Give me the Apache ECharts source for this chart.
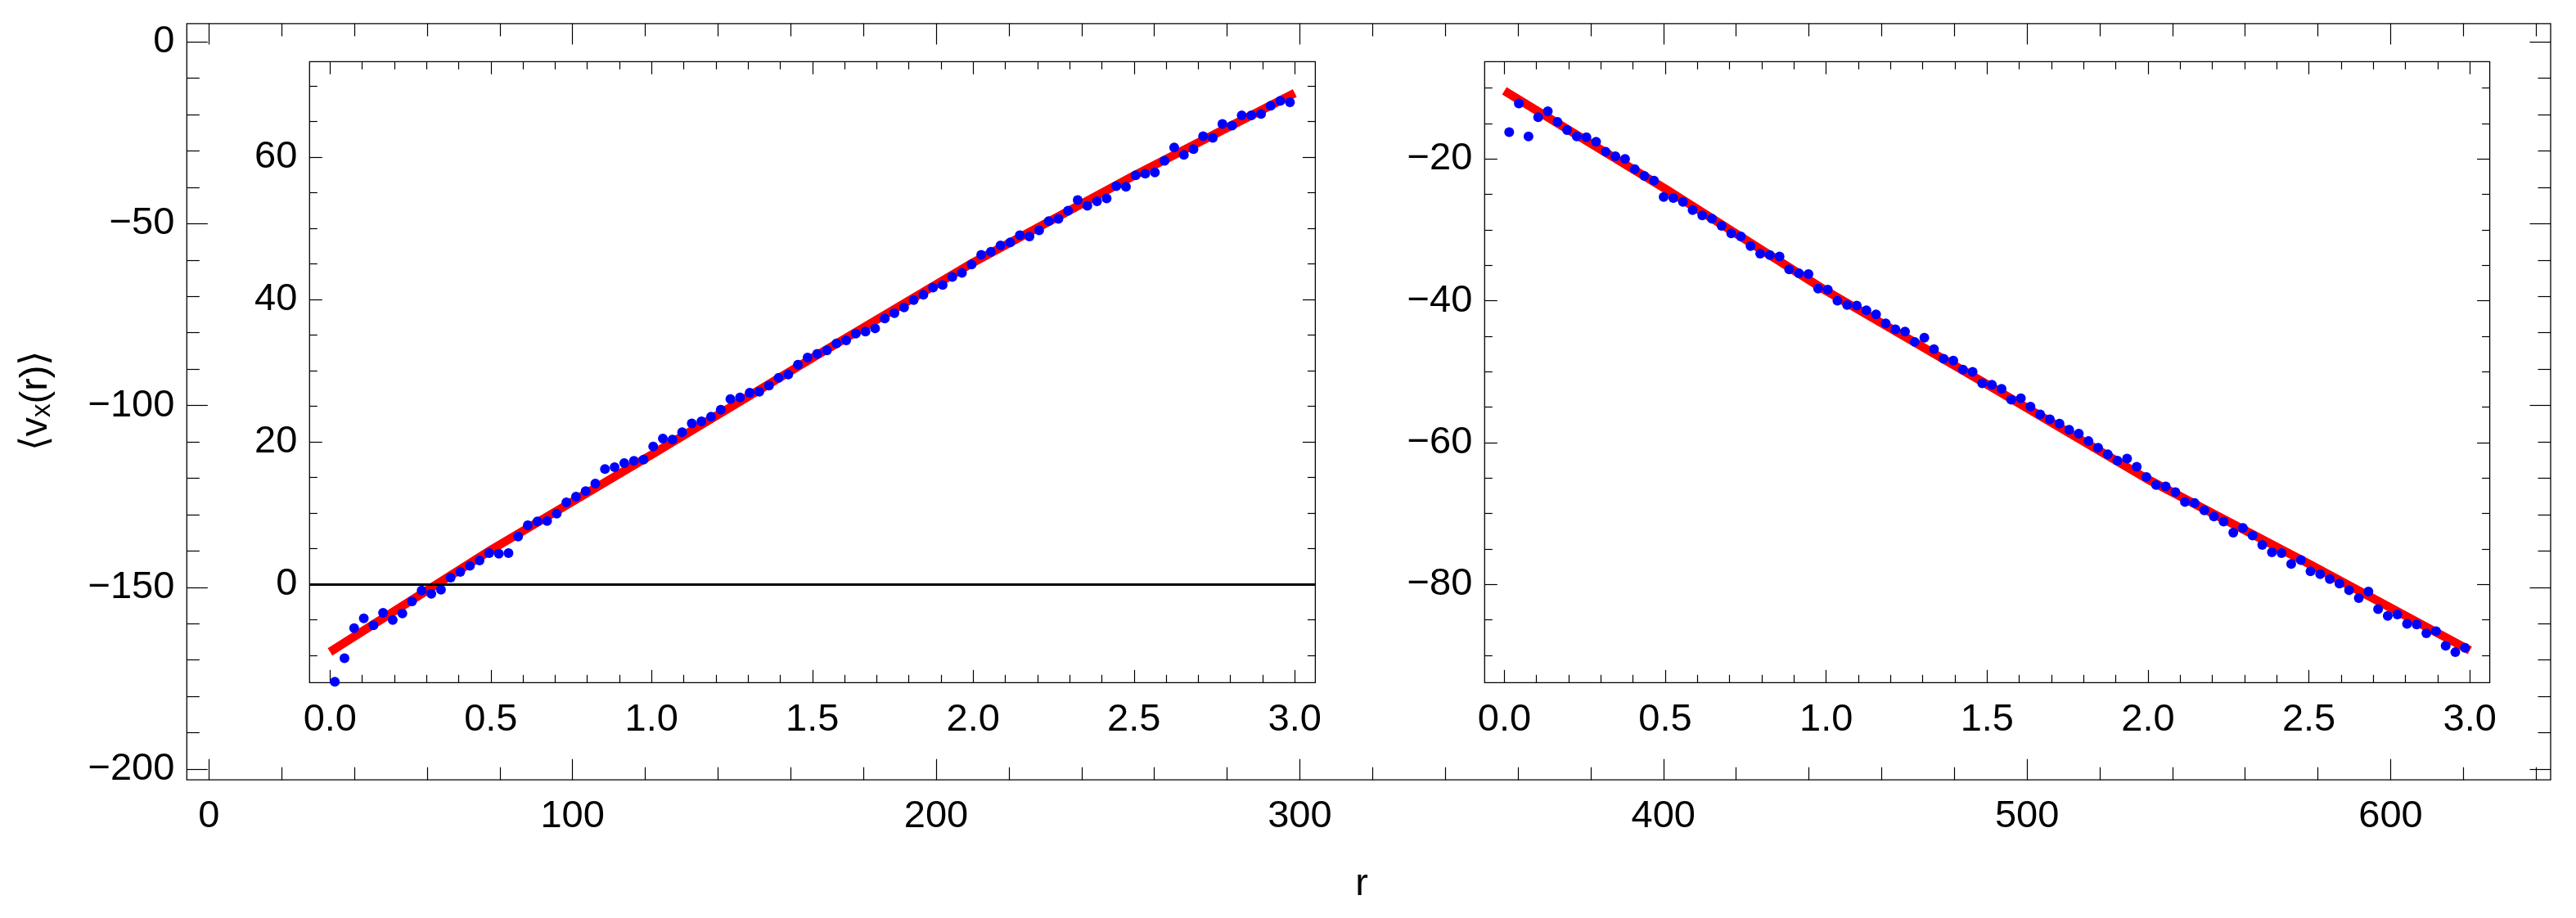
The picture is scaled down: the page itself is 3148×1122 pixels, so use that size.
<!DOCTYPE html>
<html>
<head>
<meta charset="utf-8">
<script src="https://cdn.jsdelivr.net/npm/echarts@6/dist/echarts.min.js"></script>
<style>
html,body{margin:0;padding:0;background:#fff;}
#chart{width:3148px;height:1122px;}
</style>
</head>
<body>
<div id="chart"></div>
<script>
// ---------------- DATA ----------------
const rBins = [0.015,0.045,0.075,0.105,0.135,0.165,0.195,0.225,0.255,0.285,
  0.315,0.345,0.375,0.405,0.435,0.465,0.495,0.525,0.555,0.585,
  0.615,0.645,0.675,0.705,0.735,0.765,0.795,0.825,0.855,0.885,
  0.915,0.945,0.975,1.005,1.035,1.065,1.095,1.125,1.155,1.185,
  1.215,1.245,1.275,1.305,1.335,1.365,1.395,1.425,1.455,1.485,
  1.515,1.545,1.575,1.605,1.635,1.665,1.695,1.725,1.755,1.785,
  1.815,1.845,1.875,1.905,1.935,1.965,1.995,2.025,2.055,2.085,
  2.115,2.145,2.175,2.205,2.235,2.265,2.295,2.325,2.355,2.385,
  2.415,2.445,2.475,2.505,2.535,2.565,2.595,2.625,2.655,2.685,
  2.715,2.745,2.775,2.805,2.835,2.865,2.895,2.925,2.955,2.985];

const leftVals = [-13.7,-10.4,-6.16,-4.78,-5.78,-4.02,-5.01,-4.09,-2.40,-0.87,
  -1.33,-0.76,0.93,1.73,2.58,3.34,4.38,4.30,4.38,6.71,
  8.28,8.82,8.90,9.93,11.50,12.31,13.07,14.15,16.18,16.45,
  17.02,17.33,17.52,19.36,20.47,20.32,21.35,22.58,22.88,23.53,
  24.53,26.02,26.25,26.90,27.06,27.90,29.01,29.47,30.85,31.85,
  32.35,32.84,33.84,34.25,35.20,35.49,35.94,37.33,38.07,38.89,
  39.92,40.66,41.68,42.05,43.16,43.74,44.93,46.28,46.69,47.60,
  48.01,49.03,48.87,49.73,51.00,51.33,52.48,53.96,53.18,53.79,
  54.20,55.93,55.85,57.45,57.69,57.86,59.50,61.35,60.32,61.14,
  62.95,62.70,64.67,64.43,65.86,65.86,66.07,67.22,67.92,67.71];

const rightVals = [-16.23,-12.19,-16.81,-14.12,-13.27,-14.77,-15.93,-16.81,-16.93,-17.58,
  -19.00,-19.62,-20.00,-21.43,-22.39,-23.05,-25.36,-25.51,-26.05,-27.20,
  -27.97,-28.43,-29.43,-30.51,-30.94,-32.28,-33.36,-33.55,-33.75,-35.56,
  -36.13,-36.25,-38.29,-38.44,-39.98,-40.60,-40.68,-41.33,-41.91,-43.18,
  -44.03,-44.33,-45.80,-45.22,-46.83,-48.18,-48.45,-49.72,-50.03,-51.64,
  -51.84,-52.41,-53.95,-53.76,-54.92,-56.03,-56.71,-57.32,-58.20,-58.75,
  -59.79,-60.73,-61.64,-62.55,-62.26,-63.42,-64.86,-65.97,-66.18,-67.00,
  -68.36,-68.53,-69.56,-70.43,-71.13,-72.69,-72.03,-73.11,-74.42,-75.46,
  -75.58,-77.11,-76.57,-78.14,-78.55,-79.25,-79.87,-80.82,-81.93,-81.02,
  -83.50,-84.45,-84.24,-85.56,-85.64,-86.88,-86.59,-88.65,-89.56,-88.94];

const fitR = [0, 0.5, 1.0, 1.5, 2.0, 2.5, 3.0];
const leftFit = [-9.5, 4.8, 18.2, 31.8, 45.2, 57.4, 69.0];
const rightFit = [-10.4, -24.2, -38.6, -51.8, -65.2, -77.1, -89.3];

// tick values
const outerXTicks = [0, 100, 200, 300, 400, 500, 600];
const outerXMinor = [20,40,60,80,120,140,160,180,220,240,260,280,320,340,360,380,420,440,460,480,520,540,560,580,620,640];
const outerYTicks = [-200, -150, -100, -50, 0];
const outerYMinor = [-190,-180,-170,-160,-140,-130,-120,-110,-90,-80,-70,-60,-40,-30,-20,-10];
const insetXTicks = [0, 0.5, 1.0, 1.5, 2.0, 2.5, 3.0];
const insetXMinor = [0.1,0.2,0.3,0.4,0.6,0.7,0.8,0.9,1.1,1.2,1.3,1.4,1.6,1.7,1.8,1.9,2.1,2.2,2.3,2.4,2.6,2.7,2.8,2.9];
const leftYTicks = [0, 20, 40, 60];
const leftYMinor = [-10,-5,5,10,15,25,30,35,45,50,55,65,70];
const rightYTicks = [-80, -60, -40, -20];
const rightYMinor = [-90,-85,-75,-70,-65,-55,-50,-45,-35,-30,-25,-15,-10];

// ---------------- BUILD ----------------
const FONT = 'Liberation Sans, Arial, sans-serif';
const FS = 47;
const minus = v => String(v).replace('-', '\u2212');
const fmt1 = v => (+v).toFixed(1);

const xAxes = [], yAxes = [];
function addFrame(g, xr, yr, xMaj, xMin, yMaj, yMin, majLen, minLen, xFmt, yFmt, xMargin, yMargin) {
  const tickStyle = {color:'#000', width:1.2};
  const base = (min, max) => ({type:'value', gridIndex:g, min:min, max:max,
    axisLine:{show:false, onZero:false}, splitLine:{show:false}, minorTick:{show:false}});
  const mk = (pos, isX, vals, len, labelVals, f, margin) => Object.assign(
    base(isX ? xr[0] : yr[0], isX ? xr[1] : yr[1]), {
      position: pos,
      axisTick:{show:true, inside:true, length:len, customValues:vals, lineStyle:tickStyle},
      axisLabel: labelVals ? {show:true, customValues:labelVals, formatter:f, margin:margin,
        fontSize:FS, fontFamily:FONT, color:'#000'} : {show:false}
    });
  const xi = xAxes.length, yi = yAxes.length;
  xAxes.push(mk('bottom', true, xMaj, majLen, xMaj, xFmt, xMargin));
  xAxes.push(mk('bottom', true, xMin, minLen, null));
  xAxes.push(mk('top', true, xMaj, majLen, null));
  xAxes.push(mk('top', true, xMin, minLen, null));
  yAxes.push(mk('left', false, yMaj, majLen, yMaj, yFmt, yMargin));
  yAxes.push(mk('left', false, yMin, minLen, null));
  yAxes.push(mk('right', false, yMaj, majLen, null));
  yAxes.push(mk('right', false, yMin, minLen, null));
  return {xi, yi};
}

const gridStyle = {show:true, borderColor:'#000', borderWidth:1.3, backgroundColor:'transparent',
  containLabel:false, outerBoundsMode:'none'};
const grids = [
  Object.assign({left:228.3, top:28.9, width:2888.7, height:924.3}, gridStyle),
  Object.assign({left:378.3, top:75.3, width:1229.1, height:759.0}, gridStyle),
  Object.assign({left:1814.3, top:75.3, width:1228.3, height:759.0}, gridStyle)
];

const A0 = addFrame(0, [-6.076, 644.0], [-202.97, 5.0], outerXTicks, outerXMinor, outerYTicks, outerYMinor,
  25.5, 15.5, v => String(v), minus, 21, 15);
const A1 = addFrame(1, [-0.0636, 3.0639], [-13.82, 73.42], insetXTicks, insetXMinor, leftYTicks, leftYMinor,
  15.5, 9.5, fmt1, minus, 22, 15);
const A2 = addFrame(2, [-0.0613, 3.0620], [-93.85, -6.27], insetXTicks, insetXMinor, rightYTicks, rightYMinor,
  15.5, 9.5, fmt1, minus, 22, 15);

const zip = (xs, ys) => xs.map((x, i) => [x, ys[i]]);

const series = [
  {type:'scatter', xAxisIndex:A0.xi, yAxisIndex:A0.yi, data:[], silent:true},
  {type:'line', xAxisIndex:A1.xi, yAxisIndex:A1.yi, data:zip(fitR, leftFit), showSymbol:false,
   lineStyle:{color:'#ff0000', width:10.5, cap:'butt'}, silent:true, z:2,
   markLine:{silent:true, symbol:['none','none'], label:{show:false}, animation:false,
     lineStyle:{color:'#000', width:3, type:'solid'}, data:[{yAxis:0}]}},
  {type:'scatter', xAxisIndex:A1.xi, yAxisIndex:A1.yi, data:zip(rBins, leftVals), symbol:'circle',
   symbolSize:12, itemStyle:{color:'#0000ff', opacity:1}, silent:true, z:4},
  {type:'line', xAxisIndex:A2.xi, yAxisIndex:A2.yi, data:zip(fitR, rightFit), showSymbol:false,
   lineStyle:{color:'#ff0000', width:10.5, cap:'butt'}, silent:true, z:2},
  {type:'scatter', xAxisIndex:A2.xi, yAxisIndex:A2.yi, data:zip(rBins, rightVals), symbol:'circle',
   symbolSize:12, itemStyle:{color:'#0000ff', opacity:1}, silent:true, z:4}
];

const chart = echarts.init(document.getElementById('chart'), null, {renderer:'canvas', width:3148, height:1122});
chart.setOption({
  animation:false,
  backgroundColor:'#ffffff',
  grid: grids,
  xAxis: xAxes,
  yAxis: yAxes,
  series: series,
  graphic: [
    {type:'text', x:44, y:490, rotation:Math.PI/2, silent:true,
     style:{x:0, y:0, text:'{a|\u27E8v}{s|x}{a|(r)\u27E9}',
       align:'center', verticalAlign:'middle', textAlign:'center', textVerticalAlign:'middle',
       fill:'#000',
       rich:{a:{fontSize:FS, fontFamily:FONT, fill:'#000', lineHeight:48},
             s:{fontSize:33, fontFamily:FONT, fill:'#000', lineHeight:24, verticalAlign:'bottom'}}}},
    {type:'text', x:1664, y:1081, silent:true,
     style:{text:'r', font: FS + 'px ' + FONT, fill:'#000',
       align:'center', verticalAlign:'middle', textAlign:'center', textVerticalAlign:'middle'}}
  ]
});
</script>
</body>
</html>
